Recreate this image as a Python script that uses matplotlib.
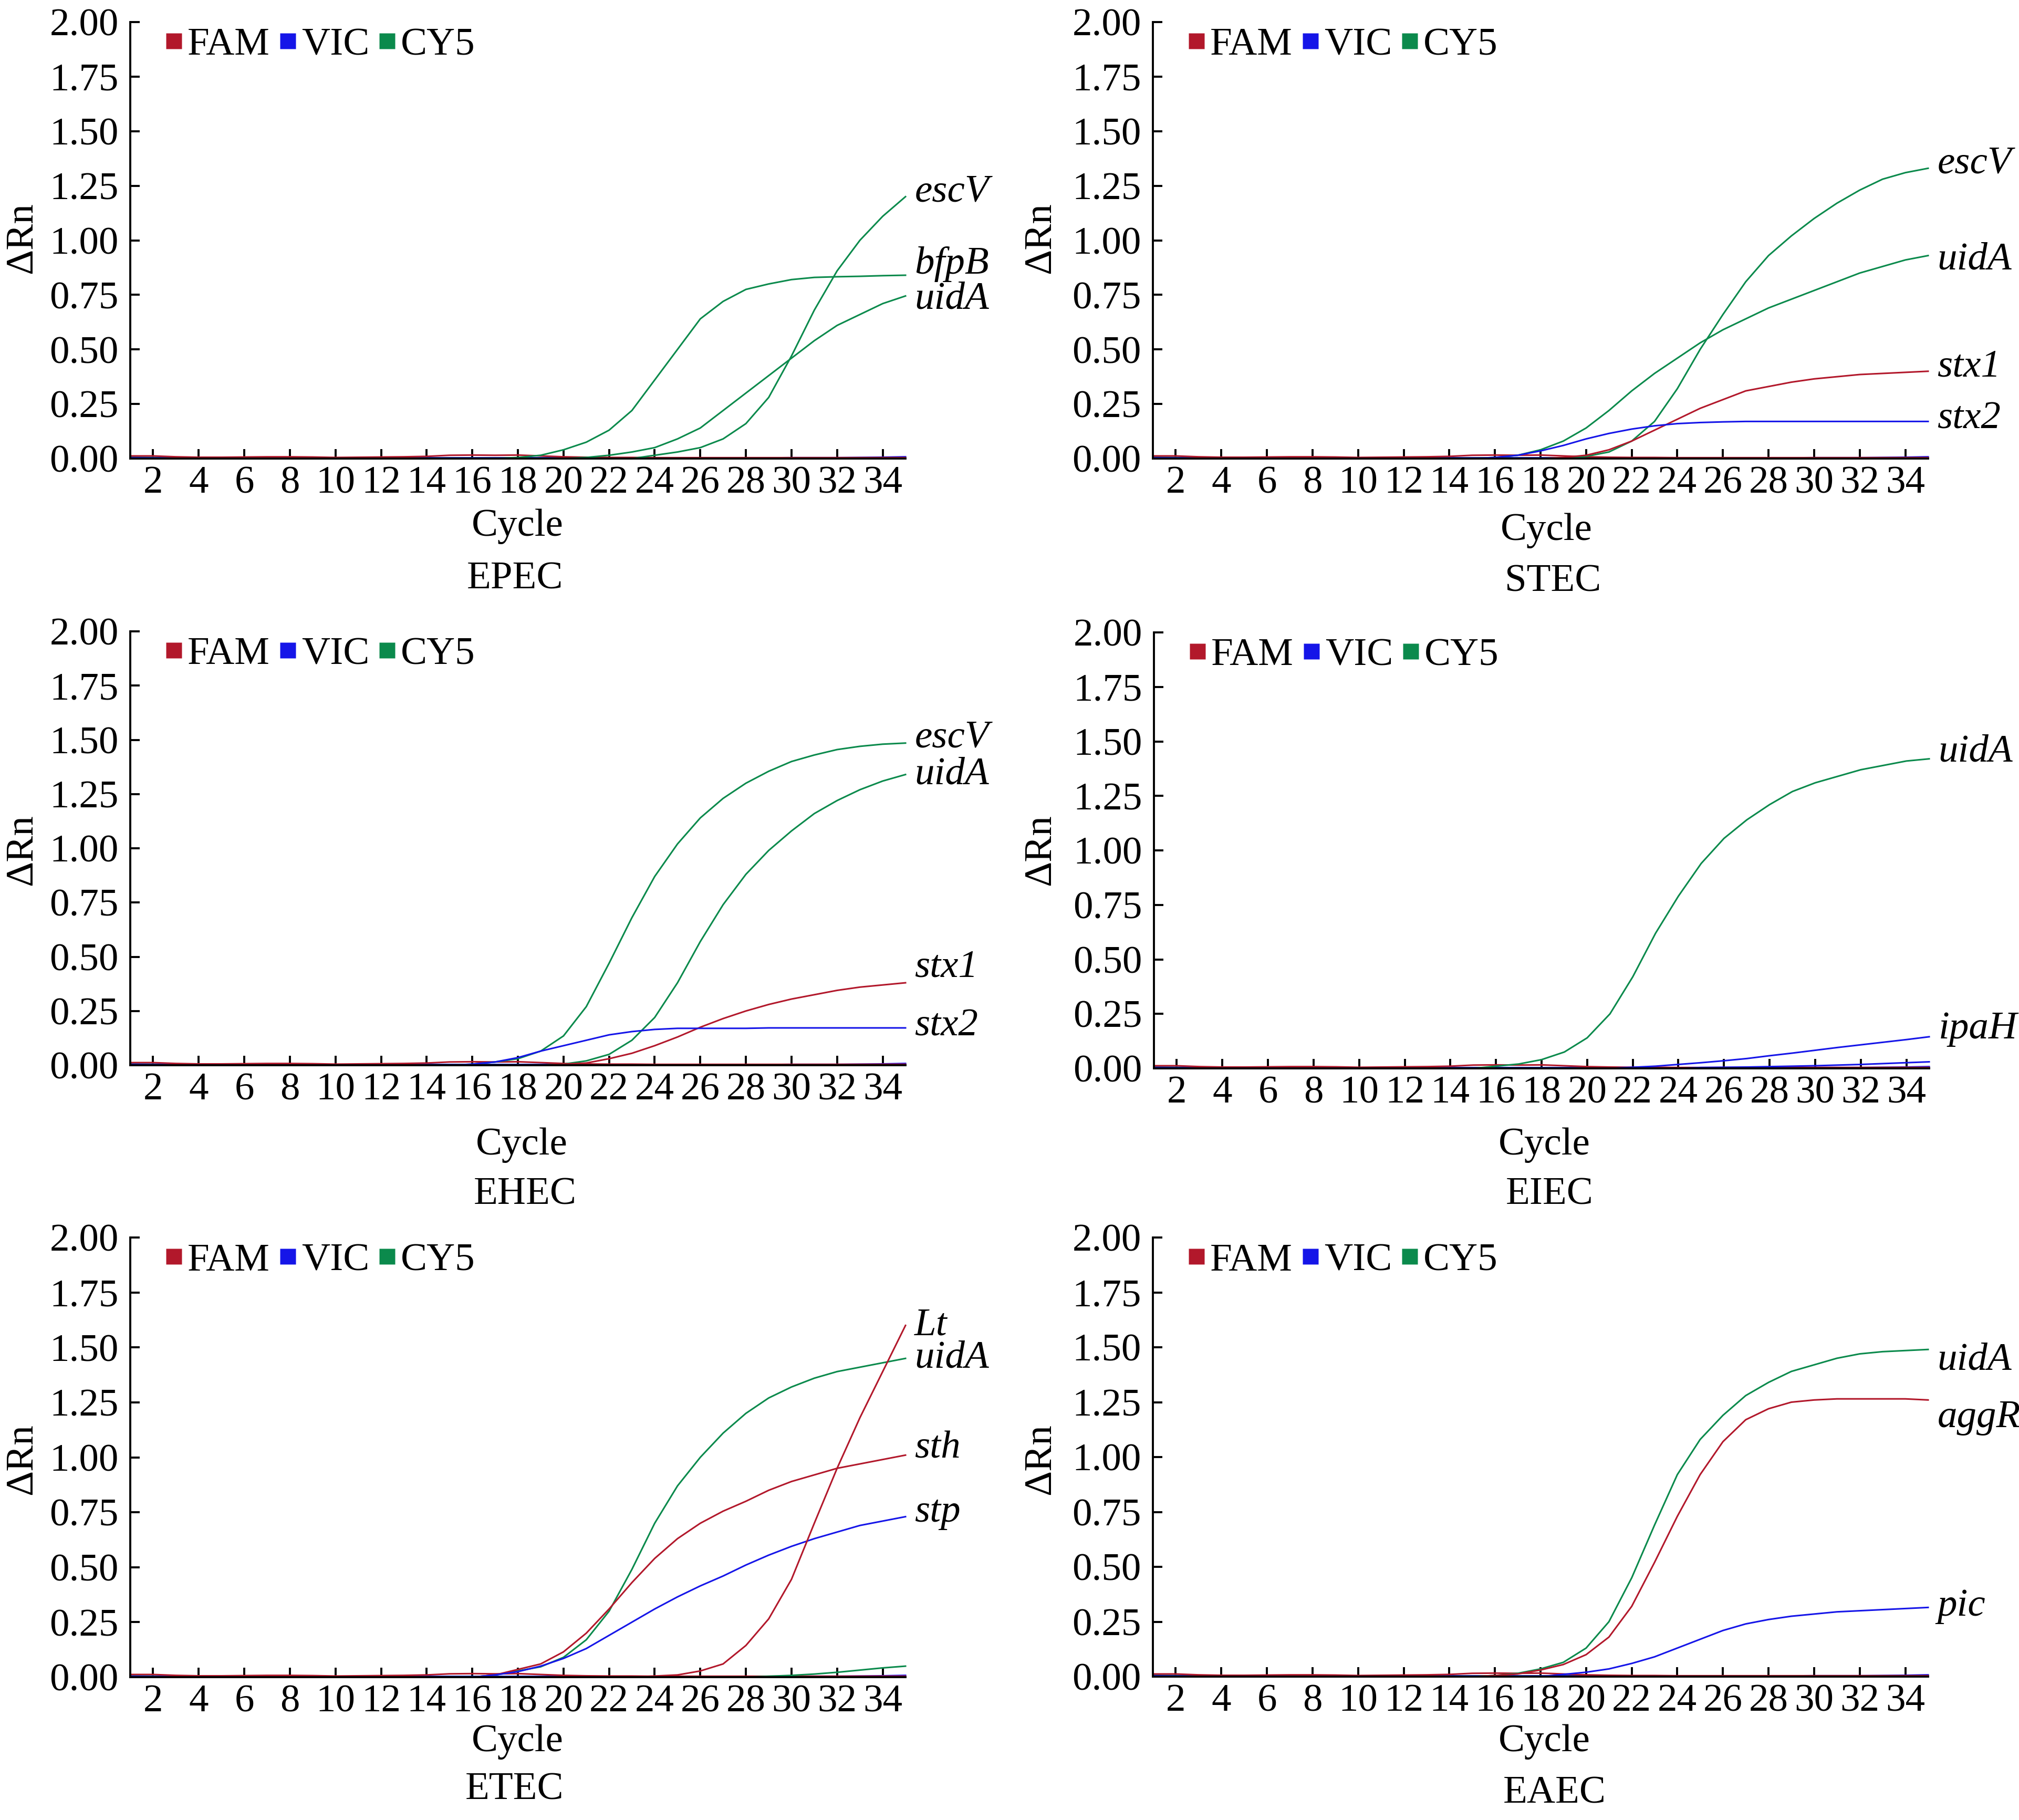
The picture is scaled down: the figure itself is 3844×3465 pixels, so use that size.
import matplotlib.pyplot as plt
from matplotlib.lines import Line2D
from matplotlib.ticker import FormatStrFormatter

plt.rcParams['font.family'] = ['Liberation Serif', 'DejaVu Serif']

W, H = 3844, 3465
FAM = '#b2182b'
VIC = '#1515e8'
CY5 = '#0b8a4c'

cycles = list(range(1, 36))


def pad(vals):
    # flat zero baseline before the amplification starts
    return [0.0] * (35 - len(vals)) + vals


# background traces of the three channels (near zero)
fam_base = [0.012, 0.012, 0.008, 0.006, 0.006, 0.007, 0.008, 0.008, 0.007, 0.005,
            0.006, 0.007, 0.008, 0.010, 0.015, 0.016, 0.015, 0.016, 0.012, 0.008,
            0.006, 0.005, 0.005, 0.004, 0.004, 0.004, 0.004, 0.004, 0.004, 0.004,
            0.004, 0.004, 0.004, 0.004, 0.004]
vic_base = [0.004, 0.003, 0.003, 0.003, 0.003, 0.003, 0.003, 0.003, 0.003, 0.002,
            0.002, 0.002, 0.003, 0.003, 0.003, 0.003, 0.003, 0.003, 0.003, 0.003,
            0.003, 0.003, 0.003, 0.003, 0.003, 0.003, 0.003, 0.003, 0.003, 0.004,
            0.004, 0.004, 0.005, 0.006, 0.008]
cy5_base = [0.006, 0.005, 0.005, 0.004, 0.003, 0.003, 0.003, 0.003, 0.003, 0.003,
            0.003, 0.003, 0.003, 0.003, 0.003, 0.003, 0.003, 0.003, 0.003, 0.003,
            0.003, 0.003, 0.003, 0.003, 0.003, 0.003, 0.003, 0.003, 0.003, 0.003,
            0.003, 0.003, 0.003, 0.003, 0.004]
eiec_vic_base = pad([0.004, 0.005, 0.006, 0.008, 0.010, 0.012, 0.015, 0.018, 0.022, 0.026, 0.03])
etec_late = pad([0.004, 0.008, 0.014, 0.022, 0.032, 0.042, 0.05])

# EPEC
epec_escv = pad([0.015, 0.03, 0.05, 0.09, 0.16, 0.28, 0.47, 0.68, 0.86, 1.00, 1.11, 1.20])
epec_bfpb = pad([0.005, 0.015, 0.04, 0.075, 0.13, 0.22, 0.36, 0.50, 0.64, 0.72, 0.775,
                 0.80, 0.82, 0.83, 0.833, 0.835, 0.838, 0.84])
epec_uida = pad([0.005, 0.015, 0.03, 0.05, 0.09, 0.14, 0.22, 0.30, 0.38, 0.46, 0.54,
                 0.61, 0.66, 0.71, 0.745])

# STEC
stec_escv = pad([0.0, 0.01, 0.03, 0.08, 0.17, 0.32, 0.50, 0.66, 0.81, 0.93, 1.02, 1.10,
                 1.17, 1.23, 1.28, 1.31, 1.33])
stec_uida = pad([0.005, 0.015, 0.04, 0.08, 0.14, 0.22, 0.31, 0.39, 0.46, 0.53, 0.59,
                 0.64, 0.69, 0.73, 0.77, 0.81, 0.85, 0.88, 0.91, 0.93])
stec_stx1 = pad([0.005, 0.015, 0.04, 0.08, 0.13, 0.18, 0.23, 0.27, 0.31, 0.33, 0.35,
                 0.365, 0.375, 0.385, 0.39, 0.395, 0.40])
stec_stx2 = pad([0.0, 0.005, 0.015, 0.035, 0.06, 0.09, 0.115, 0.135, 0.15, 0.16, 0.165,
                 0.168, 0.17, 0.17, 0.17, 0.17, 0.17, 0.17, 0.17, 0.17, 0.17])

# EHEC
ehec_escv = pad([0.005, 0.015, 0.03, 0.065, 0.135, 0.27, 0.47, 0.68, 0.87, 1.02, 1.14,
                 1.23, 1.30, 1.355, 1.40, 1.43, 1.455, 1.47, 1.48, 1.485])
ehec_uida = pad([0.005, 0.02, 0.05, 0.115, 0.22, 0.38, 0.57, 0.74, 0.88, 0.99, 1.08,
                 1.16, 1.22, 1.27, 1.31, 1.34])
ehec_stx1 = pad([0.005, 0.01, 0.03, 0.055, 0.09, 0.13, 0.175, 0.215, 0.25, 0.28, 0.305,
                 0.325, 0.345, 0.36, 0.37, 0.38])
ehec_stx2 = pad([0.005, 0.015, 0.035, 0.065, 0.09, 0.115, 0.14, 0.155, 0.165, 0.17,
                 0.17, 0.17, 0.17, 0.172, 0.172, 0.172, 0.172, 0.172, 0.172, 0.172])

# EIEC
eiec_uida = pad([0.01, 0.02, 0.04, 0.075, 0.14, 0.25, 0.42, 0.62, 0.79, 0.94, 1.055,
                 1.14, 1.21, 1.27, 1.31, 1.34, 1.37, 1.39, 1.41, 1.42])
eiec_ipah = pad([0.005, 0.01, 0.018, 0.026, 0.035, 0.045, 0.058, 0.07, 0.083, 0.096,
                 0.108, 0.12, 0.132, 0.145])

# ETEC
etec_lt = pad([0.005, 0.01, 0.028, 0.06, 0.144, 0.265, 0.445, 0.70, 0.95, 1.18, 1.39, 1.60])
etec_uida = pad([0.01, 0.028, 0.047, 0.09, 0.17, 0.30, 0.49, 0.70, 0.87, 1.00, 1.11,
                 1.20, 1.27, 1.32, 1.36, 1.39, 1.41, 1.43, 1.45])
etec_sth = pad([0.01, 0.035, 0.06, 0.115, 0.20, 0.31, 0.43, 0.54, 0.63, 0.70, 0.755,
                0.80, 0.85, 0.89, 0.92, 0.95, 0.97, 0.99, 1.01])
etec_stp = pad([0.01, 0.025, 0.05, 0.085, 0.13, 0.19, 0.25, 0.31, 0.365, 0.415, 0.46,
                0.51, 0.555, 0.595, 0.63, 0.66, 0.69, 0.71, 0.73])

# EAEC
eaec_uida = pad([0.005, 0.015, 0.035, 0.065, 0.13, 0.25, 0.45, 0.69, 0.92, 1.08, 1.19,
                 1.28, 1.34, 1.39, 1.42, 1.45, 1.47, 1.48, 1.485, 1.49])
eaec_aggr = pad([0.005, 0.012, 0.03, 0.055, 0.10, 0.18, 0.32, 0.52, 0.73, 0.92, 1.07,
                 1.17, 1.22, 1.25, 1.26, 1.265, 1.265, 1.265, 1.265, 1.26])
eaec_pic = pad([0.01, 0.02, 0.035, 0.06, 0.09, 0.13, 0.17, 0.21, 0.24, 0.26, 0.275,
                0.285, 0.295, 0.30, 0.305, 0.31, 0.315])

panels = [
    ('EPEC', [(epec_escv, CY5), (epec_bfpb, CY5), (epec_uida, CY5)],
     ['escV', 'bfpB', 'uidA'], [1.22, 0.89, 0.73]),
    ('STEC', [(stec_escv, CY5), (stec_uida, CY5), (stec_stx1, FAM), (stec_stx2, VIC)],
     ['escV', 'uidA', 'stx1', 'stx2'], [1.35, 0.91, 0.42, 0.18]),
    ('EHEC', [(ehec_escv, CY5), (ehec_uida, CY5), (ehec_stx1, FAM), (ehec_stx2, VIC)],
     ['escV', 'uidA', 'stx1', 'stx2'], [1.51, 1.34, 0.45, 0.18]),
    ('EIEC', [(eiec_uida, CY5), (eiec_ipah, VIC), (eiec_vic_base, VIC)],
     ['uidA', 'ipaH'], [1.45, 0.18]),
    ('ETEC', [(etec_uida, CY5), (etec_sth, FAM), (etec_stp, VIC), (etec_lt, FAM),
              (etec_late, CY5)],
     ['Lt', 'uidA', 'sth', 'stp'], [1.60, 1.45, 1.04, 0.75]),
    ('EAEC', [(eaec_uida, CY5), (eaec_aggr, FAM), (eaec_pic, VIC)],
     ['uidA', 'aggR', 'pic'], [1.44, 1.18, 0.32]),
]

# layout in pixels: axes box (left, top, right, bottom), xlabel (x, y), title (x, y), ylabel (x, y)
boxes = [(248, 42, 1724, 873), (2195, 42, 3671, 873),
         (248, 1202, 1724, 2028), (2197, 1204, 3673, 2034),
         (248, 2356, 1724, 3193), (2195, 2356, 3671, 3192)]
xlab_pos = [(985, 1002), (2944, 1010), (993, 2180), (2940, 2180), (985, 3316), (2940, 3316)]
title_pos = [(980, 1103), (2957, 1108), (1000, 2275), (2950, 2275), (980, 3408), (2960, 3415)]
ylab_pos = [(42, 453), (1981, 453), (42, 1618), (1981, 1618), (42, 2778), (1981, 2778)]

FS = 54

fig = plt.figure(figsize=(W / 100, H / 100), dpi=100)

for i, (name, curves, labels, label_y) in enumerate(panels):
    l, t, r, b = boxes[i]
    ax = fig.add_axes([l / W, 1 - b / H, (r - l) / W, (b - t) / H])

    ax.plot(cycles, cy5_base, color=CY5, lw=2.2, clip_on=False)
    ax.plot(cycles, vic_base, color=VIC, lw=2.2, clip_on=False)
    ax.plot(cycles, fam_base, color=FAM, lw=2.2, clip_on=False)
    for vals, c in curves:
        ax.plot(cycles, vals, color=c, lw=2.2, clip_on=False)

    for lab, y in zip(labels, label_y):
        ax.text(35.4, y, lab, fontsize=FS, style='italic', ha='left', va='center',
                clip_on=False)

    ax.set_xlim(1, 35)
    ax.set_ylim(0, 2)
    ax.set_xticks(range(2, 35, 2))
    ax.set_yticks([0, 0.25, 0.5, 0.75, 1.0, 1.25, 1.5, 1.75, 2.0])
    ax.yaxis.set_major_formatter(FormatStrFormatter('%.2f'))
    ax.spines['top'].set_visible(False)
    ax.spines['right'].set_visible(False)
    ax.spines['left'].set_linewidth(2.8)
    ax.spines['bottom'].set_linewidth(2.8)
    ax.tick_params(direction='in', length=13, width=2.8, labelsize=FS)
    ax.tick_params(axis='x', pad=10)
    ax.tick_params(axis='y', pad=16)

    handles = [Line2D([], [], ls='none', marker='s', ms=21, mfc=c, mec='none')
               for c in (FAM, VIC, CY5)]
    ax.legend(handles, ['FAM', 'VIC', 'CY5'], ncol=3, loc='upper left',
              bbox_to_anchor=(0.046, 0.988), frameon=False, borderpad=0,
              borderaxespad=0, handlelength=0.4, handletextpad=0.15,
              columnspacing=0.25, fontsize=FS)

    fig.text(xlab_pos[i][0] / W, 1 - xlab_pos[i][1] / H, 'Cycle', fontsize=FS,
             ha='center', va='center')
    fig.text(title_pos[i][0] / W, 1 - title_pos[i][1] / H, name, fontsize=FS,
             ha='center', va='center')
    fig.text(ylab_pos[i][0] / W, 1 - ylab_pos[i][1] / H, 'ΔRn', fontsize=FS,
             rotation=90, ha='center', va='center')

fig.savefig('out.png', dpi=100)
